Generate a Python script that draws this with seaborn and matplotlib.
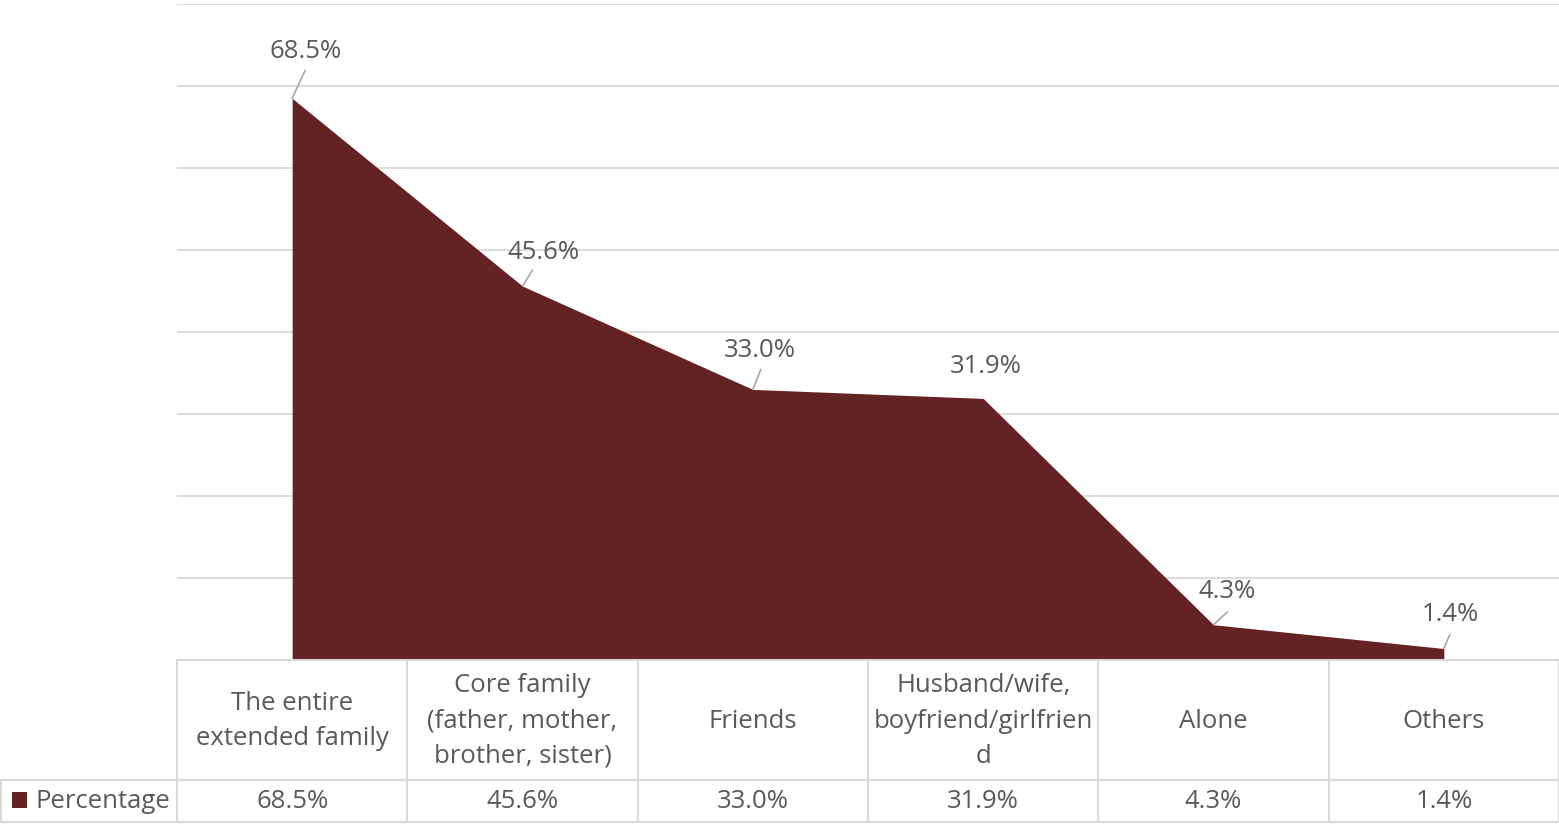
import matplotlib
matplotlib.use("Agg")
import matplotlib.pyplot as plt
import matplotlib.transforms as mtransforms
from matplotlib.patches import Rectangle
import seaborn as sns
import pandas as pd

# --- data -------------------------------------------------------------
categories = [
    "The entire\nextended family",
    "Core family\n(father, mother,\nbrother, sister)",
    "Friends",
    "Husband/wife,\nboyfriend/girlfrien\nd",
    "Alone",
    "Others",
]
percentages = [68.5, 45.6, 33.0, 31.9, 4.3, 1.4]
series_name = "Percentage"
y_ticks = [0, 10, 20, 30, 40, 50, 60, 70, 80]

# --- style --------------------------------------------------------------
sns.set_theme(style="white")
plt.rcParams["font.family"] = ["Open Sans", "DejaVu Sans"]

FILL = "#632325"
TEXT = "#595959"
GRID = "#d9d9d9"
LEADER = "#a6a6a6"
FS = 18.5

W, H = 1559, 825
fig = plt.figure(figsize=(W / 100, H / 100), dpi=100, facecolor="white")
# plot area in pixels: left 177, right 1559, top 4, bottom 660
ax = fig.add_axes([177 / W, 1 - 660 / H, (W - 177) / W, (660 - 4) / H])
ax.set_facecolor("none")

df = pd.DataFrame({"pos": range(len(categories)), "value": percentages})
sns.lineplot(data=df, x="pos", y="value", color=FILL, linewidth=0, ax=ax)
ax.fill_between(df["pos"], 0, df["value"], color=FILL, linewidth=0, zorder=3)

ax.set_xlim(-0.5, len(categories) - 0.5)
ax.set_ylim(y_ticks[0], y_ticks[-1])
for t in y_ticks[1:]:
    ax.axhline(t, color=GRID, lw=1.3, zorder=1)
for s in ax.spines.values():
    s.set_visible(False)
ax.set_xticks([])
ax.set_yticks([])
ax.set_xlabel("")
ax.set_ylabel("")

# data labels (pixel offsets of label centre) and leader lines
label_offsets = [(13, 47), (21, 34), (7, 39), (3, 32), (14, 33), (6, 34)]
leader_ends = [(13, 28), (10, 16), (8, 20), None, (14, 13), (6, 14)]
for i, v in enumerate(percentages):
    dx, dy = label_offsets[i]
    ax.annotate(f"{v:.1f}%", xy=(i, v), xytext=(dx, dy),
                textcoords="offset pixels", ha="center", va="center",
                fontsize=FS, color=TEXT, zorder=5, annotation_clip=False)
    if leader_ends[i] is not None:
        ax.annotate("", xy=(i, v), xytext=leader_ends[i],
                    textcoords="offset pixels",
                    arrowprops=dict(arrowstyle="-", color=LEADER, lw=1.2,
                                    shrinkA=0, shrinkB=0),
                    zorder=5, annotation_clip=False)

# --- data table below the plot -------------------------------------------
blend = mtransforms.blended_transform_factory(ax.transData, fig.transFigure)
figT = fig.transFigure


def fy(y):
    return 1 - y / H


y_top, y_mid, y_bot = 660, 780, 822
n = len(categories)
xl, xr = -0.5, n - 0.5

line_kw = dict(color=GRID, lw=1.5, clip_on=False)
# horizontal rules
fig.add_artist(plt.Line2D([xl, xr], [fy(y_top)] * 2, transform=blend, **line_kw))
fig.add_artist(plt.Line2D([0, 1], [fy(y_mid)] * 2, transform=figT, **line_kw))
fig.add_artist(plt.Line2D([0, 1], [fy(y_bot)] * 2, transform=figT, **line_kw))
# vertical rules
for k in range(n + 1):
    fig.add_artist(plt.Line2D([k - 0.5] * 2, [fy(y_top), fy(y_bot)],
                              transform=blend, **line_kw))
fig.add_artist(plt.Line2D([1 / W] * 2, [fy(y_mid), fy(y_bot)],
                          transform=figT, **line_kw))

# header and value rows
for i, (cat, v) in enumerate(zip(categories, percentages)):
    fig.text(i, fy(721), cat, transform=blend,
             ha="center", va="center", fontsize=FS, color=TEXT,
             linespacing=1.53)
    fig.text(i, fy(801), f"{v:.1f}%", transform=blend,
             ha="center", va="center", fontsize=FS, color=TEXT)

# legend key in the row header
fig.add_artist(Rectangle((12 / W, fy(808)), 15 / W, 16 / H,
                         transform=figT, facecolor=FILL, edgecolor="none"))
fig.text(35 / W, fy(801), series_name, transform=figT,
         ha="left", va="center", fontsize=FS, color=TEXT)

fig.savefig("out.png", dpi=100, facecolor="white")
